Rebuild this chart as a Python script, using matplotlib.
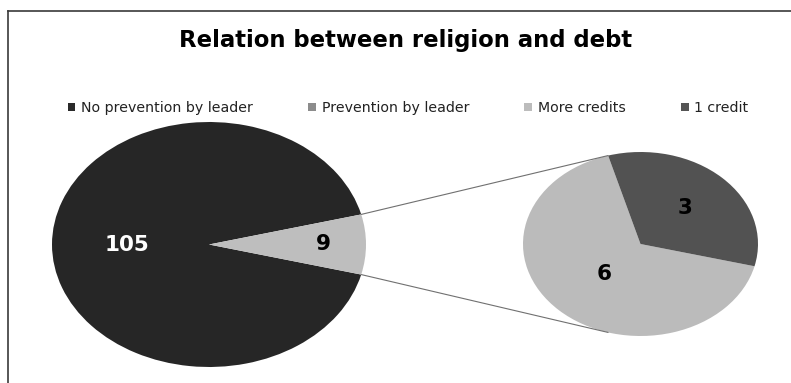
import numpy as np
import matplotlib.pyplot as plt
from matplotlib.patches import Patch, ConnectionPatch
from matplotlib.lines import Line2D

# main pie: leader prevention among religious debtors
main_labels = ["No prevention by leader", "Prevention by leader"]
main_values = [105, 9]
main_colors = ["#262626", "#bebebe"]

# breakdown of the "Prevention by leader" slice
sub_labels = ["More credits", "1 credit"]
sub_values = [6, 3]
sub_colors = ["#bbbbbb", "#525252"]

legend_labels = ["No prevention by leader", "Prevention by leader", "More credits", "1 credit"]
legend_colors = ["#2a2a2a", "#8c8c8c", "#bcbcbc", "#555555"]

W, H = 791, 383
fig = plt.figure(figsize=(W / 100, H / 100), dpi=100)


def px_axes(x0, y0, x1, y1):
    # axes placed by pixel box (top-left origin)
    ax = fig.add_axes([x0 / W, 1 - y1 / H, (x1 - x0) / W, (y1 - y0) / H])
    ax.axis("off")
    return ax


def label_slices(ax, wedges, values, dists, colors):
    for w, v, d, c in zip(wedges, values, dists, colors):
        mid = np.deg2rad((w.theta1 + w.theta2) / 2)
        ax.text(d * np.cos(mid), d * np.sin(mid), str(v), ha="center", va="center",
                fontsize=15.5, fontweight="bold", color=c)


def stretch(ax):
    ax.set_xlim(-1, 1)
    ax.set_ylim(-1, 1)
    ax.set_aspect("auto")


# left pie
ax1 = px_axes(52, 122, 366, 367)
half = 360 * main_values[1] / sum(main_values) / 2
w1, _ = ax1.pie(main_values, colors=main_colors, startangle=half, radius=1,
                wedgeprops=dict(linewidth=0), frame=False)
stretch(ax1)
label_slices(ax1, w1, main_values, [0.52, 0.73], ["white", "black"])

# right pie
ax2 = px_axes(523, 152, 758, 336)
sub_start = 106
w2, _ = ax2.pie(sub_values, colors=sub_colors, startangle=sub_start, radius=1,
                wedgeprops=dict(linewidth=0), frame=False)
stretch(ax2)
label_slices(ax2, w2, sub_values, [0.45, 0.54], ["black", "black"])

# connector lines between the small slice and the breakdown pie
for a, b in [(half, sub_start), (-half, -sub_start)]:
    ta, tb = np.deg2rad(a), np.deg2rad(b)
    con = ConnectionPatch(xyA=(np.cos(ta), np.sin(ta)), coordsA=ax1.transData,
                          xyB=(np.cos(tb), np.sin(tb)), coordsB=ax2.transData,
                          color="#707070", linewidth=0.8)
    fig.add_artist(con)

fig.text(406 / W, 1 - 40 / H, "Relation between religion and debt", ha="center", va="center",
         fontsize=16.4, fontweight="bold", color="black")

handles = [Patch(facecolor=c, edgecolor="none") for c in legend_colors]
fig.legend(handles, legend_labels, loc="center", bbox_to_anchor=(408 / W, 1 - 108 / H),
           ncol=4, frameon=False, fontsize=10.2, handlelength=0.55, handleheight=0.55,
           handletextpad=0.4, columnspacing=3.9, labelcolor="#222222")

# chart border (only top and left edges fall inside the image)
fig.add_artist(Line2D([8 / W, 8 / W], [0, 1 - 11 / H], color="#3a3a3a", linewidth=1.2))
fig.add_artist(Line2D([8 / W, 1], [1 - 11 / H, 1 - 11 / H], color="#3a3a3a", linewidth=1.2))

fig.savefig("out.png", dpi=100)
